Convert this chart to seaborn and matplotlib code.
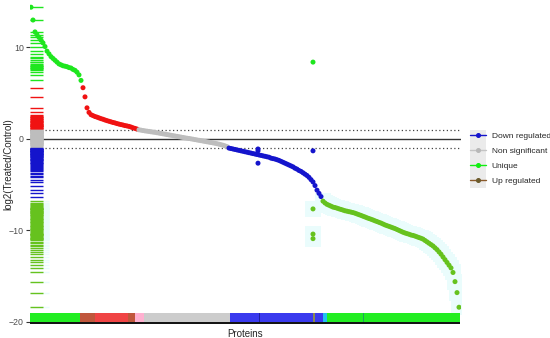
import numpy as np
import pandas as pd
import matplotlib
matplotlib.use("Agg")
import matplotlib.pyplot as plt
import seaborn as sns
from matplotlib.lines import Line2D
from matplotlib.patches import Rectangle

# ---------------- data (sorted log2 ratios) ----------------
unique_top = [14.4, 13.0, 11.7, 11.4, 11.1, 10.8, 10.5, 10.1, 9.6, 9.3, 9.0, 8.8, 8.6,
              8.4, 8.2, 8.1, 8.0, 7.95, 7.9, 7.8, 7.75, 7.6, 7.5, 7.3, 7.0, 6.4]
up_regulated = [5.6, 4.6, 3.4, 2.9, 2.65, 2.55, 2.45, 2.38, 2.3, 2.22, 2.15, 2.07, 2.0,
                1.93, 1.87, 1.8, 1.75, 1.68, 1.62, 1.57, 1.52, 1.46, 1.42, 1.37, 1.3,
                1.22, 1.15, 1.08]
non_significant = [1.0, 0.96, 0.92, 0.88, 0.85, 0.82, 0.78, 0.75, 0.72, 0.68, 0.64, 0.60,
                   0.56, 0.52, 0.48, 0.44, 0.40, 0.36, 0.32, 0.28, 0.24, 0.20, 0.16, 0.12,
                   0.08, 0.05, 0.01, -0.03, -0.07, -0.11, -0.15, -0.19, -0.23, -0.27,
                   -0.31, -0.35, -0.39, -0.43, -0.47, -0.52, -0.57, -0.63, -0.69, -0.76,
                   -0.84]
down_regulated = [-1.0, -1.05, -1.1, -1.15, -1.2, -1.25, -1.3, -1.35, -1.4, -1.45, -1.5,
                  -1.55, -1.6, -1.65, -1.7, -1.75, -1.8, -1.85, -1.9, -1.95, -2.0, -2.1,
                  -2.15, -2.2, -2.27, -2.35, -2.45, -2.55, -2.65, -2.75, -2.85, -2.95,
                  -3.05, -3.2, -3.3, -3.45, -3.55, -3.7, -3.85, -4.0, -4.2, -4.45, -4.7,
                  -5.1, -5.6, -5.95, -6.3]
unique_tail = [-6.8, -7.0, -7.15, -7.25, -7.35, -7.45, -7.5, -7.57, -7.64, -7.71, -7.78,
               -7.85, -7.9, -7.95, -8.0, -8.05, -8.12, -8.2, -8.28, -8.36, -8.45, -8.53,
               -8.62, -8.7, -8.78, -8.86, -8.95, -9.03, -9.12, -9.2, -9.3, -9.4, -9.48,
               -9.56, -9.64, -9.72, -9.8, -9.9, -10.0, -10.1, -10.2, -10.28, -10.35,
               -10.42, -10.5, -10.55, -10.62, -10.7, -10.78, -10.86, -10.95, -11.1,
               -11.25, -11.4, -11.55, -11.7, -11.9, -12.1, -12.35, -12.6, -12.9, -13.2,
               -13.5, -13.8, -14.1, -14.6, -15.6, -16.8, -18.4]

# extra (off-curve) points
outlier_rank = [113.5, 113.5, 113.5, 141, 141, 141, 141, 141]
outlier_value = [-1.1, -1.3, -2.65, -1.3, 8.4, -7.65, -10.4, -10.9]
outlier_group = ["Down regulated"] * 4 + ["Unique top"] + ["Unique tail"] * 3

# category strip along the bottom (run lengths in protein-rank units)
strip_keys = ["green", "brown", "red", "brown", "pink", "grey", "blue", "darkblue", "blue",
              "olive", "blue", "cyan", "green", "darkgreen", "green"]
strip_widths = [25, 7.5, 16.5, 3.5, 4.5, 43, 14.5, 0.6, 26.4, 1, 4, 2, 18, 0.6, 48]

legend_labels = ["Down regulated", "Non significant", "Unique", "Up regulated"]

# ---------------- styling ----------------
point_palette = {
    "Unique top": "#1ee61e",
    "Up regulated": "#f01212",
    "Non significant": "#bdbdbd",
    "Down regulated": "#1414cc",
    "Unique tail": "#66c21e",
}
strip_palette = {
    "green": "#22ee22", "brown": "#c0573c", "red": "#f04444", "pink": "#ffb0d0",
    "grey": "#cccccc", "blue": "#3a3aee", "darkblue": "#2020a0", "olive": "#8a8a50",
    "cyan": "#20c0f0", "darkgreen": "#20a060",
}
legend_colors = ["#1414cc", "#c4c4c4", "#10ee10", "#8b5a2b"]
legend_marker_colors = ["#1414cc", "#b8b8b8", "#10ee10", "#6b5a2b"]

sns.set_style("white")
plt.rcParams["font.family"] = ["Liberation Sans", "DejaVu Sans"]

groups = (["Unique top"] * len(unique_top) + ["Up regulated"] * len(up_regulated)
          + ["Non significant"] * len(non_significant)
          + ["Down regulated"] * len(down_regulated) + ["Unique tail"] * len(unique_tail))
values = unique_top + up_regulated + non_significant + down_regulated + unique_tail
df = pd.DataFrame({"rank": np.arange(len(values)), "value": values, "group": groups})
out = pd.DataFrame({"rank": outlier_rank, "value": outlier_value, "group": outlier_group})
df_all = pd.concat([df, out], ignore_index=True)

fig = plt.figure(figsize=(5.5, 3.38), dpi=100)
ax = fig.add_axes([30 / 550, 12 / 338, 431 / 550, 324 / 338])

# faint cyan halo behind the tail
halo = df_all[df_all["group"] == "Unique tail"]
sns.scatterplot(data=halo, x="rank", y="value", marker="s", s=130, color="#eafcfc",
                linewidth=0, ax=ax, zorder=0.5, legend=False)
sns.rugplot(data=halo, y="value", color="#eafcfc", height=0.045, lw=3, ax=ax,
            legend=False)

# reference lines
ax.axhline(0, color="#333333", lw=1.0, zorder=1)
ax.axhline(1, color="#444444", lw=0.9, ls=(0, (1, 2)), zorder=1)
ax.axhline(-1, color="#444444", lw=0.9, ls=(0, (1, 2)), zorder=1)

# rug on the left
sns.rugplot(data=df_all, y="value", hue="group", palette=point_palette, height=0.03,
            lw=0.9, ax=ax, legend=False)

# points
sns.scatterplot(data=df_all, x="rank", y="value", hue="group", palette=point_palette,
                s=13, linewidth=0, ax=ax, legend=False, zorder=3)

# bottom category strip
starts = -0.5 + np.concatenate([[0], np.cumsum(strip_widths)[:-1]])
ax.bar(starts, 1.0, width=strip_widths, bottom=-20.0, align="edge",
       color=[strip_palette[k] for k in strip_keys], linewidth=0, zorder=2)
ax.bar(-0.5, 0.25, width=float(np.sum(strip_widths)), bottom=-20.25, align="edge",
       color="#141414", linewidth=0, zorder=2)

ax.set_xlim(-0.5, 215)
ax.set_ylim(-20.45, 14.97)
ax.set_yticks([10, 0, -10, -20])
ax.set_xticks([])
for s in ax.spines.values():
    s.set_visible(False)
ax.tick_params(axis="y", left=True, length=3, width=0.8, color="#333333",
               labelsize=6.3, labelcolor="#4d4d4d", pad=1.5)
ax.set_ylabel("log2(Treated/Control)", fontsize=7)
ax.yaxis.set_label_coords(-0.038, 0.5)
ax.set_xlabel("Proteins", fontsize=7, labelpad=2)

# legend
fig.add_artist(Rectangle((470 / 550, 1 - 188 / 338), 16 / 550, 58 / 338,
                         transform=fig.transFigure, facecolor="#ebebeb",
                         edgecolor="none", zorder=0))
handles = [Line2D([0], [0], color=c, lw=1.0, marker="o", markersize=2.6,
                  markerfacecolor=mc, markeredgecolor=mc)
           for c, mc in zip(legend_colors, legend_marker_colors)]
fig.legend(handles, legend_labels, loc="upper left",
           bbox_to_anchor=(470 / 550, 1 - 132 / 338), frameon=False, fontsize=6,
           handlelength=1.9, handletextpad=0.7, labelspacing=0.85, borderpad=0,
           borderaxespad=0)

fig.savefig("out.png", dpi=100)
